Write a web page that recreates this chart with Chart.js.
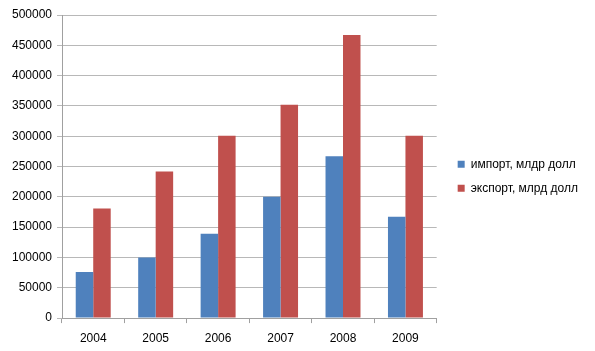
<!DOCTYPE html>
<html>
<head>
<meta charset="utf-8">
<script src="https://cdn.jsdelivr.net/npm/chart.js@4/dist/chart.umd.min.js"></script>
<style>
  html, body { margin: 0; padding: 0; background: #fff; }
  #wrap { width: 595px; height: 351px; }
</style>
</head>
<body>
<div id="wrap"><canvas id="barChart" width="595" height="351"></canvas></div>
<script>
const years = ['2004', '2005', '2006', '2007', '2008', '2009'];
const importVals = [76000, 100000, 139000, 200000, 267000, 167000];
const exportVals = [181000, 242000, 301000, 352000, 467000, 301000];

// nudge the legend right of the plot area and slightly up
const legendShift = {
    id: 'legendShift',
    afterLayout(chart) {
        if (chart.legend) {
            chart.legend.left += 9;
            chart.legend.right += 9;
            chart.legend.top -= 8;
            chart.legend.bottom -= 8;
        }
    }
};

let bar = document.getElementById('barChart').getContext('2d');
let chart = new Chart(bar, {
    type: 'bar',
    data: {
        labels: years,
        datasets: [{
            label: 'импорт, млдр долл',
            backgroundColor: '#4F81BD',
            data: importVals
        }, {
            label: 'экспорт, млрд долл',
            backgroundColor: '#C0504D',
            data: exportVals
        }]
    },
    options: {
        responsive: false,
        animation: false,
        layout: {
            padding: { top: 15, right: 16, bottom: -2.5, left: 0 }
        },
        datasets: {
            bar: { categoryPercentage: 0.56, barPercentage: 1.0 }
        },
        plugins: {
            tooltip: { enabled: false },
            legend: {
                position: 'right',
                labels: {
                    boxWidth: 7,
                    boxHeight: 7,
                    padding: 12,
                    color: '#000',
                    font: { family: 'Liberation Sans', size: 12 }
                }
            }
        },
        scales: {
            x: {
                grid: {
                    drawOnChartArea: false,
                    color: '#a0a0a0',
                    tickLength: 5
                },
                border: { color: '#a0a0a0' },
                ticks: {
                    color: '#000',
                    padding: 8,
                    font: { family: 'Liberation Sans', size: 12 }
                }
            },
            y: {
                min: 0,
                max: 500000,
                afterFit(scale) { scale.width = 62; },
                grid: {
                    color: '#b8b8b8',
                    tickLength: 5
                },
                border: { color: '#a0a0a0' },
                ticks: {
                    stepSize: 50000,
                    color: '#000',
                    padding: 5,
                    font: { family: 'Liberation Sans', size: 12 },
                    callback: (v) => String(v)
                }
            }
        }
    },
    plugins: [legendShift]
});
</script>
</body>
</html>
